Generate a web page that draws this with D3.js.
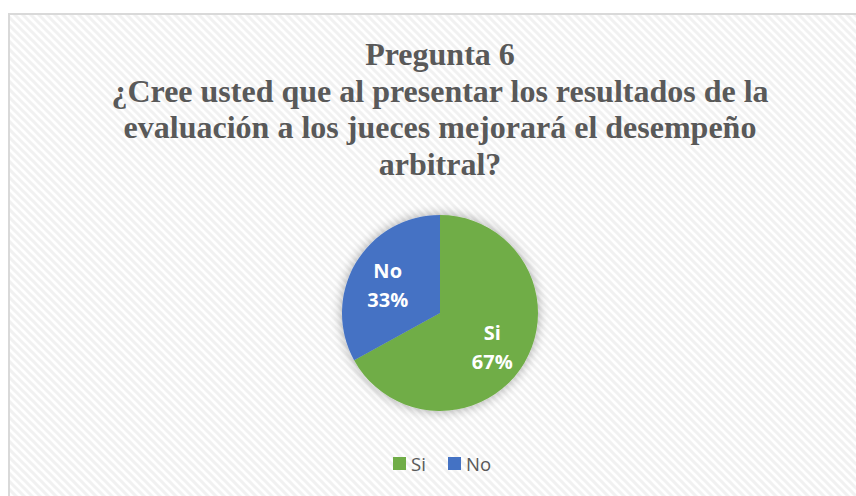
<!DOCTYPE html>
<html>
<head>
<meta charset="utf-8">
<script src="https://cdn.jsdelivr.net/npm/d3@7"></script>
<style>
  body { margin: 0; background: #fff; }
  svg { display: block; }
</style>
</head>
<body>
<div class="chart"></div>
<script>
var categories = ["Si", "No"];
var values = [67, 33];
var labels = ["67%", "33%"];
var titleLines = [
    "Pregunta 6",
    "¿Cree usted que al presentar los resultados de la",
    "evaluación a los jueces mejorará el desempeño",
    "arbitral?"
];

var svgWidth = 856;
var svgHeight = 496;
var radius = 98;
var cx = 440, cy = 313;

var svg = d3.select(".chart")
    .append("svg")
    .attr("width", svgWidth)
    .attr("height", svgHeight);

var defs = svg.append("defs");

// diagonal stair pattern used as chart background
var pat = defs.append("pattern")
    .attr("id", "hatch")
    .attr("patternUnits", "userSpaceOnUse")
    .attr("width", 8)
    .attr("height", 8);
pat.append("rect").attr("width", 8).attr("height", 8).attr("fill", "#ffffff");
pat.append("path")
    .attr("d", "M0,0 L4,4 M4,4 L8,8 M-4,4 L4,12 M4,-4 L12,4")
    .attr("stroke", "#f1f1f1")
    .attr("stroke-width", 3);

var shadow = defs.append("filter")
    .attr("id", "glow")
    .attr("x", "-30%").attr("y", "-30%")
    .attr("width", "160%").attr("height", "160%");
shadow.append("feGaussianBlur").attr("in", "SourceAlpha").attr("stdDeviation", 6).attr("result", "b");
shadow.append("feComponentTransfer").attr("in", "b").attr("result", "c")
    .append("feFuncA").attr("type", "linear").attr("slope", 0.35);
var merge = shadow.append("feMerge");
merge.append("feMergeNode").attr("in", "c");
merge.append("feMergeNode").attr("in", "SourceGraphic");

// chart area with border
svg.append("rect")
    .attr("x", 9)
    .attr("y", 14)
    .attr("width", 870)
    .attr("height", 500)
    .attr("fill", "url(#hatch)")
    .attr("stroke", "#d9d9d9")
    .attr("stroke-width", 2);

// title
var title = svg.append("text")
    .attr("text-anchor", "middle")
    .style("font-family", "'Liberation Serif', 'Times New Roman', serif")
    .style("font-weight", "bold")
    .style("font-size", "32px")
    .attr("fill", "#595959");

title.selectAll("tspan")
    .data(titleLines)
    .enter()
    .append("tspan")
    .attr("x", 440)
    .attr("y", (d, i) => 65 + i * 36.7)
    .text(d => d);

var color = d3.scaleOrdinal()
    .domain(categories)
    .range(["#70ad47", "#4472c4"]);

var pie = d3.pie()
    .sort(null)
    .value(d => d.value);

var data = categories.map((c, i) => ({ name: c, value: values[i], label: labels[i] }));

var arc = d3.arc().innerRadius(0).outerRadius(radius);

var pieGroup = svg.append("g")
    .attr("transform", `translate(${cx}, ${cy})`);

pieGroup.append("g")
    .attr("filter", "url(#glow)")
    .selectAll("path")
    .data(pie(data))
    .enter()
    .append("path")
    .attr("d", arc)
    .attr("fill", d => color(d.data.name));

// data labels
var labelArc = d3.arc().innerRadius(radius * 0.62).outerRadius(radius * 0.62);

var lbl = pieGroup.selectAll(".lbl")
    .data(pie(data))
    .enter()
    .append("text")
    .attr("class", "lbl")
    .attr("text-anchor", "middle")
    .attr("transform", d => `translate(${labelArc.centroid(d)})`)
    .style("font-family", "'Open Sans', 'Liberation Sans', sans-serif")
    .style("font-weight", "bold")
    .style("font-size", "20px")
    .attr("fill", "#ffffff");

lbl.append("tspan").attr("x", 0).attr("y", -4).text(d => d.data.name);
lbl.append("tspan").attr("x", 0).attr("y", 25).text(d => d.data.label);

// legend
var legendX = [393, 448];
var legend = svg.selectAll(".legend")
    .data(categories)
    .enter()
    .append("g")
    .attr("class", "legend")
    .attr("transform", (d, i) => `translate(${legendX[i]}, 457)`);

legend.append("rect")
    .attr("width", 13)
    .attr("height", 13)
    .attr("fill", d => color(d));

legend.append("text")
    .attr("x", 18)
    .attr("y", 14)
    .style("font-family", "'Open Sans', 'Liberation Sans', sans-serif")
    .style("font-size", "18.5px")
    .attr("fill", "#595959")
    .text(d => d);
</script>
</body>
</html>
